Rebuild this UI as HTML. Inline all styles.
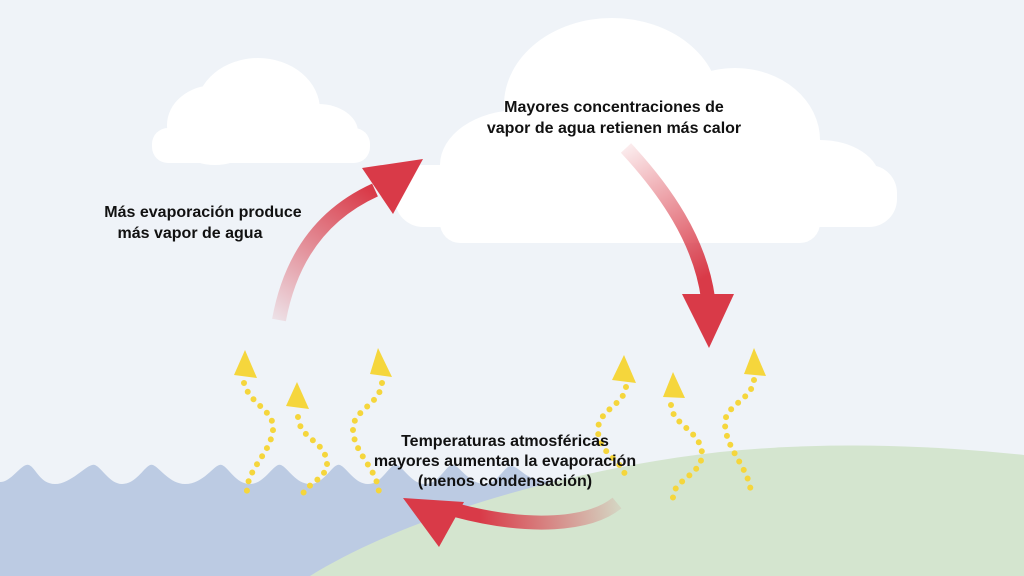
<!DOCTYPE html>
<html><head><meta charset="utf-8"><style>
html,body{margin:0;padding:0;background:#eff3f8;}
svg{display:block}
text{font-family:"Liberation Sans",Arial,sans-serif;font-weight:bold;font-size:16px;fill:#111;}
</style></head><body>
<svg width="1024" height="576" viewBox="0 0 1024 576" xmlns="http://www.w3.org/2000/svg">
<defs>
<linearGradient id="g1" gradientUnits="userSpaceOnUse" x1="279" y1="322" x2="370" y2="190"><stop offset="0" stop-color="#d93a48" stop-opacity="0.1"/><stop offset="1" stop-color="#d93a48"/></linearGradient>
<linearGradient id="g2" gradientUnits="userSpaceOnUse" x1="626" y1="148" x2="700" y2="280"><stop offset="0" stop-color="#d93a48" stop-opacity="0.1"/><stop offset="1" stop-color="#d93a48"/></linearGradient>
<linearGradient id="g3" gradientUnits="userSpaceOnUse" x1="618" y1="505" x2="480" y2="520"><stop offset="0" stop-color="#d93a48" stop-opacity="0.1"/><stop offset="1" stop-color="#d93a48"/></linearGradient>
</defs>
<rect width="1024" height="576" fill="#eff3f8"/>
<!-- small cloud -->
<g fill="#fff">
<ellipse cx="258" cy="110" rx="62" ry="52"/>
<ellipse cx="215" cy="125" rx="48" ry="40"/>
<ellipse cx="318" cy="132" rx="40" ry="28"/>
<rect x="152" y="128" width="218" height="35" rx="16"/>
</g>
<!-- big cloud -->
<g fill="#fff">
<ellipse cx="612" cy="105" rx="108" ry="87"/>
<ellipse cx="520" cy="165" rx="80" ry="55"/>
<ellipse cx="735" cy="140" rx="85" ry="72"/>
<ellipse cx="820" cy="180" rx="60" ry="40"/>
<rect x="395" y="165" width="502" height="62" rx="28"/>
<rect x="440" y="190" width="380" height="53" rx="20"/>
</g>
<!-- water -->
<path d="M0 482 C12 482 22 462 29 465 C36 468 40 484 55 484 C72 484 88 462 95 465 C102 468 110 484 122 484 C138 484 146 462 153 465 C160 468 170 484 185 484 C205 484 215 462 222 465 C229 468 236 484 250 484 C265 484 274 462 281 465 C288 468 296 484 310 484 C325 484 333 462 340 465 C347 468 355 484 368 484 C383 484 390 462 397 465 C404 468 412 484 425 484 C440 484 447 462 454 465 C461 468 470 484 485 484 C498 484 505 464 512 466 C520 468 525 478 540 480 L560 482 L560 576 L0 576 Z" fill="#bccbe3"/>
<!-- land -->
<path d="M310 576 C400 520 560 470 720 452 C820 442 920 444 1024 455 L1024 576 Z" fill="#d4e5cf"/>
<!-- yellow squiggles -->
<g fill="none" stroke="#f5d63c" stroke-width="6" stroke-linecap="round" stroke-dasharray="0 9.5">
<path d="M244 383 C250 405 275 410 273 430 C270 455 245 470 247 495"/>
<path d="M298 417 C300 440 325 440 327 463 C328 480 300 485 302 500"/>
<path d="M382 383 C380 405 352 410 353 430 C354 455 380 470 379 497"/>
<path d="M626 387 C624 405 598 410 598 430 C598 455 625 460 626 480"/>
<path d="M671 405 C672 425 700 430 702 453 C703 475 672 480 673 498"/>
<path d="M754 380 C752 400 725 405 725 423 C725 450 752 470 751 497"/>
</g>
<g fill="#f5d63c">
<polygon points="245,350 234,375 257,378"/>
<polygon points="297,382 286,406 309,409"/>
<polygon points="378,348 370,374 392,377"/>
<polygon points="624,355 612,380 636,383"/>
<polygon points="673,372 663,397 685,398"/>
<polygon points="754,348 744,374 766,376"/>
</g>
<!-- red arrows -->
<path d="M279 320 C290 260 320 215 375 190" fill="none" stroke="url(#g1)" stroke-width="14"/>
<polygon points="423,159 362,168 393,214" fill="#d93a48"/>
<path d="M626 148 C665 190 700 240 708 298" fill="none" stroke="url(#g2)" stroke-width="14"/>
<polygon points="682,294 734,294 709,348" fill="#d93a48"/>
<path d="M617 503 C590 525 530 530 455 510" fill="none" stroke="url(#g3)" stroke-width="14"/>
<polygon points="403,498 464,502 439,547" fill="#d93a48"/>
<!-- labels -->
<text x="203" y="217" text-anchor="middle">Más evaporación produce</text>
<text x="190" y="238" text-anchor="middle">más vapor de agua</text>
<text x="614" y="112" text-anchor="middle">Mayores concentraciones de</text>
<text x="614" y="133" text-anchor="middle">vapor de agua retienen más calor</text>
<text x="505" y="446" text-anchor="middle">Temperaturas atmosféricas</text>
<text x="505" y="466" text-anchor="middle">mayores aumentan la evaporación</text>
<text x="505" y="486" text-anchor="middle">(menos condensación)</text>
</svg>
</body></html>
